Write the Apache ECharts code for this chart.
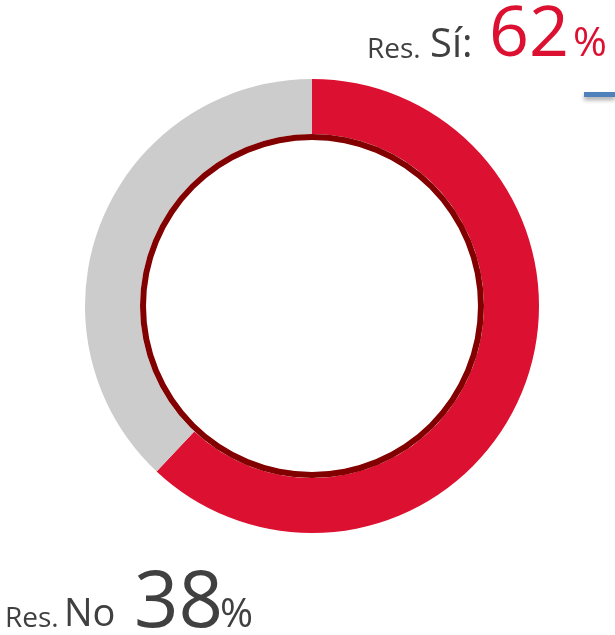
<!DOCTYPE html>
<html>
<head>
<meta charset="utf-8">
<script src="https://cdn.jsdelivr.net/npm/echarts@6/dist/echarts.min.js"></script>
<style>
  html, body { margin: 0; padding: 0; background: #fff; }
  #chart { width: 615px; height: 635px; }
</style>
</head>
<body>
<div id="chart"></div>
<script>
const prefixes = ["Res.", "Res."];
const categories = ["Sí", "No"];
const values = [62, 38];
const colors = ["#DC1030", "#CCCCCC"];

const chart = echarts.init(document.getElementById("chart"));
const font = "'Open Sans', sans-serif";
const grey = "#404040";

// place a text piece by its left x and baseline y
function piece(text, x, baseline, size, fill) {
  return {
    type: "text",
    x: x,
    y: baseline - size * 0.3,
    style: {
      text: text,
      fontFamily: font,
      fontSize: size,
      fill: fill,
      align: "left",
      verticalAlign: "middle"
    }
  };
}

const labels = [
  // Sí (top right)
  piece(prefixes[0], 367, 58, 28, grey),
  piece(categories[0] + ":", 430, 58, 40, grey),
  piece(String(values[0]), 489, 57, 70, colors[0]),
  piece("%", 573, 57, 41, colors[0]),
  // No (bottom left)
  piece(prefixes[1], 5, 627, 28, grey),
  piece(categories[1], 64, 627, 38, grey),
  piece(String(values[1]), 134, 628, 78, grey),
  piece("%", 220, 628, 40, grey)
];

chart.setOption({
  backgroundColor: "#fff",
  animation: false,
  graphic: labels.concat([
    {
      type: "rect",
      shape: { x: 584, y: 92, width: 31, height: 5 },
      style: {
        fill: "#4F81BD",
        shadowBlur: 4,
        shadowOffsetY: 3,
        shadowColor: "rgba(0,0,0,0.35)"
      }
    }
  ]),
  series: [
    {
      type: "pie",
      center: [312, 306],
      radius: [172, 227],
      startAngle: 90,
      clockwise: true,
      silent: true,
      label: { show: false },
      labelLine: { show: false },
      data: categories.map((c, i) => ({
        name: c,
        value: values[i],
        itemStyle: { color: colors[i] }
      }))
    },
    {
      type: "pie",
      center: [312, 306],
      radius: [166, 172],
      silent: true,
      label: { show: false },
      labelLine: { show: false },
      data: [{ value: 1, itemStyle: { color: "#820000" } }]
    }
  ]
});
</script>
</body>
</html>
